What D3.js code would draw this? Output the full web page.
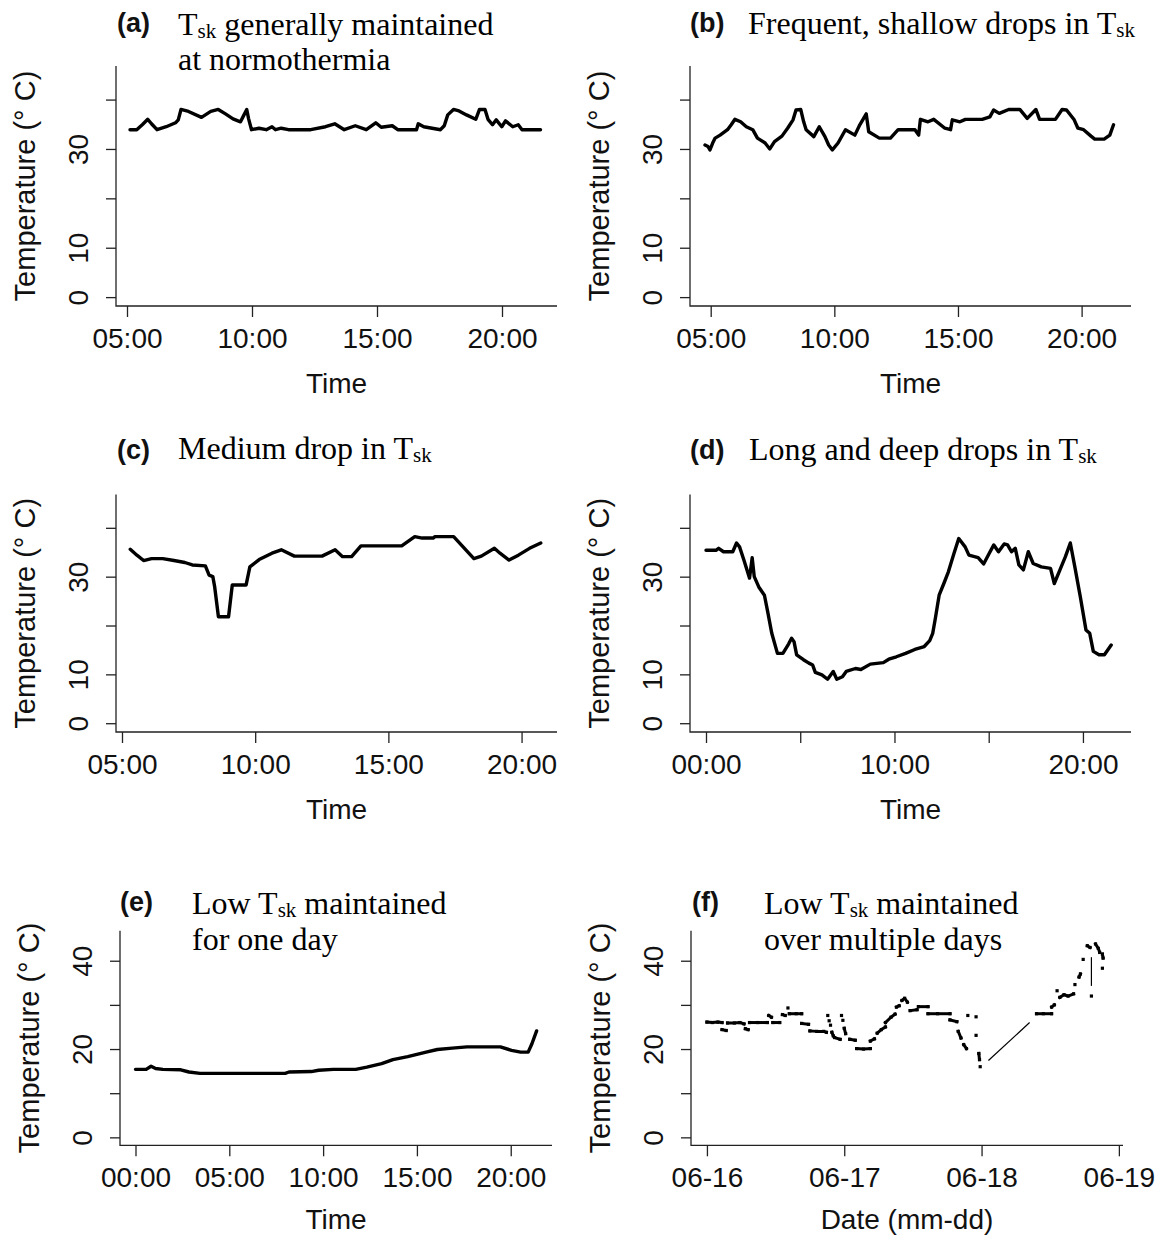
<!DOCTYPE html>
<html>
<head>
<meta charset="utf-8">
<script src="https://cdn.jsdelivr.net/npm/d3@7"></script>
<style>
  body { margin: 0; background: #fff; }
  svg { display: block; }
</style>
</head>
<body>
<svg id="fig" width="1167" height="1236"></svg>
<script>
// ---- Skin temperature (Tsk) records, hours of day / temperature in °C ----
const hoursA = [5.12,5.39,5.61,5.83,5.98,6.2,6.57,6.94,7.05,7.16,7.46,7.98,8.35,8.65,8.94,9.24,9.54,9.68,9.79,9.86,9.98,10.28,10.57,10.8,10.94,11.17,11.46,12.35,12.94,13.31,13.69,14.13,14.57,14.95,15.17,15.61,15.83,16.58,16.65,16.87,17.54,17.69,17.83,18.06,18.28,18.58,18.95,19.1,19.32,19.44,19.62,19.77,19.99,20.14,20.43,20.65,20.8,21.54];
const tempA  = [33.9,33.9,34.9,36.0,35.1,33.9,34.5,35.3,35.9,38.0,37.6,36.4,37.6,38.0,37.1,36.1,35.5,36.9,38.0,36.2,33.9,34.2,33.9,34.5,33.9,34.2,33.9,33.9,34.5,35.1,33.9,34.7,33.9,35.3,34.4,34.7,33.9,33.9,35.1,34.5,33.9,34.7,36.9,38.0,37.7,36.9,36.0,38.0,38.0,36.0,34.9,35.9,34.5,35.7,34.5,34.9,33.9,33.9];

const hoursB = [4.77,4.89,4.97,5.08,5.18,5.38,5.68,5.83,5.98,6.21,6.44,6.7,6.89,7.2,7.39,7.58,7.88,8.11,8.33,8.45,8.64,8.76,8.86,9.17,9.39,9.62,9.77,9.92,10.15,10.45,10.83,11.03,11.29,11.39,11.82,12.27,12.58,13.26,13.41,13.48,13.79,14.02,14.47,14.7,14.77,15.08,15.3,15.98,16.29,16.44,16.67,17.05,17.5,17.8,18.15,18.3,18.94,19.21,19.39,19.7,19.85,20.08,20.38,20.53,20.91,21.14,21.29];
const tempB  = [30.8,30.5,29.8,31.2,32.2,32.8,33.9,34.9,36.0,35.5,34.5,33.9,32.2,31.2,30.0,31.5,32.6,34.2,35.9,37.9,38.0,35.5,33.9,32.5,34.5,32.5,30.8,29.8,31.2,33.9,32.8,34.9,37.1,33.5,32.2,32.2,33.9,33.9,32.8,36.0,35.5,36.0,34.2,33.9,35.9,35.5,36.0,36.0,36.5,37.9,37.2,38.0,38.0,36.2,38.0,36.0,36.0,38.0,37.9,35.9,34.2,33.9,32.6,32.0,32.0,32.8,34.9];

const hoursC = [5.31,5.56,5.81,6.11,6.53,6.95,7.36,7.64,8.13,8.27,8.41,8.48,8.62,9.0,9.14,9.66,9.8,10.15,10.63,10.98,11.47,12.51,13.0,13.28,13.62,13.97,15.5,15.99,16.27,16.68,16.75,17.45,18.21,18.49,18.98,19.19,19.53,19.88,20.3,20.72];
const tempC  = [35.6,34.4,33.3,33.7,33.7,33.3,32.9,32.4,32.2,30.3,30.0,27.9,21.8,21.8,28.3,28.3,32.0,33.5,34.8,35.5,34.2,34.2,35.5,34.1,34.1,36.3,36.3,38.2,37.9,37.9,38.2,38.2,33.7,34.2,35.8,34.8,33.4,34.4,35.8,36.9];

const hoursD = [0,0.53,0.67,0.93,1.42,1.62,1.78,2.01,2.31,2.45,2.56,2.8,3.1,3.29,3.49,3.79,4.08,4.38,4.54,4.67,4.81,5.17,5.46,5.66,5.8,6.15,6.45,6.75,6.94,7.24,7.44,7.93,8.22,8.72,9.41,9.7,10.1,10.59,11.08,11.58,11.87,12.03,12.17,12.37,12.62,12.86,13.16,13.41,13.75,13.95,14.44,14.73,15.03,15.27,15.52,15.82,16.0,16.21,16.41,16.6,16.84,17.1,17.36,17.79,18.28,18.48,18.78,19.07,19.33,19.57,19.86,20.16,20.36,20.55,20.85,21.14,21.5];
const tempD  = [35.4,35.4,35.8,35.1,35.1,36.9,36.1,33.4,29.7,33.9,30.0,27.9,26.2,22.5,18.4,14.3,14.3,16.2,17.4,16.7,14.0,13.0,12.3,11.9,10.4,9.9,9.0,10.6,9.0,9.5,10.6,11.2,11.0,12.1,12.4,13.1,13.6,14.3,15.1,15.7,16.9,18.4,21.5,26.2,28.6,31.0,34.8,37.8,36.1,34.4,33.9,32.6,34.8,36.5,35.1,36.7,36.5,35.1,35.8,32.4,31.4,35.1,32.7,32.0,31.7,28.6,31.4,34.1,36.9,32.0,25.9,19.1,18.4,14.7,14.0,14.0,16.0];

const hoursE = [0,0.57,0.83,1.07,1.46,2.41,2.85,3.44,4.62,7.98,8.18,9.37,9.76,10.55,11.74,12.33,13.12,13.72,14.51,15.49,16.09,16.88,17.67,19.45,20.04,20.53,20.93,21.13,21.38];
const tempE  = [15.4,15.4,16.1,15.6,15.4,15.3,14.8,14.5,14.5,14.5,14.8,14.9,15.2,15.4,15.4,15.9,16.7,17.6,18.3,19.3,19.9,20.2,20.5,20.5,19.7,19.3,19.3,21.2,24.1];

// Multi-day record: runs of consecutive readings [days since 06-16, °C]
const fRuns = [
  [[0.00,26.1],[0.04,26.0],[0.08,26.1],[0.11,26.0]],
  [[0.11,24.4],[0.14,24.2]],
  [[0.15,25.9],[0.20,25.9],[0.24,26.0],[0.27,25.7]],
  [[0.28,24.6],[0.30,24.4]],
  [[0.31,26.0],[0.37,26.0],[0.44,26.0]],
  [[0.45,27.6],[0.47,27.2]],
  [[0.48,26.0],[0.53,26.0]],
  [[0.55,27.8],[0.57,27.6]],
  [[0.59,29.3]],
  [[0.60,28.0],[0.65,28.0],[0.69,28.0]],
  [[0.69,25.8],[0.74,25.6]],
  [[0.75,24.1],[0.80,24.0],[0.85,24.0],[0.87,23.8]],
  [[0.88,27.6]],
  [[0.89,26.4]],
  [[0.90,25.4]],
  [[0.91,23.8],[0.92,23.0]],
  [[0.93,22.6],[0.97,22.2]],
  [[0.98,27.6]],
  [[0.99,26.5]],
  [[1.00,24.7],[1.01,23.5]],
  [[1.04,22.2],[1.08,22.0]],
  [[1.09,20.1],[1.14,20.0],[1.19,20.1]],
  [[1.19,21.8],[1.22,22.3]],
  [[1.24,23.6],[1.27,24.4],[1.30,25.0]],
  [[1.30,26.0],[1.34,27.2],[1.37,27.9]],
  [[1.38,29.5],[1.40,29.8]],
  [[1.42,31.0],[1.44,31.5],[1.46,30.6]],
  [[1.48,28.7],[1.53,28.9]],
  [[1.54,29.6],[1.61,29.6]],
  [[1.61,28.0],[1.68,28.0],[1.77,28.0]],
  [[1.77,26.6],[1.82,26.2]],
  [[1.83,24.0],[1.85,22.5]],
  [[1.87,21.0],[1.89,20.1]],
  [[1.90,27.6]],
  [[1.96,27.3]],
  [[1.96,23.1]],
  [[1.98,19.0],[1.985,17.6]],
  [[1.99,16.0]],
  [[2.40,28.0],[2.45,28.0],[2.51,28.0]],
  [[2.51,29.5],[2.53,30.0]],
  [[2.55,33.2]],
  [[2.57,31.7],[2.60,32.3],[2.63,32.0],[2.67,32.5]],
  [[2.68,34.6]],
  [[2.71,36.3],[2.72,37.0]],
  [[2.74,40.3]],
  [[2.77,43.4],[2.79,43.0]],
  [[2.80,32.0]],
  [[2.83,43.8],[2.85,42.8],[2.86,41.9]],
  [[2.88,41.5],[2.885,40.6]],
  [[2.88,38.3]]
];
// thin joining strokes across missing stretches
const fLinks = [
  [[2.05,17.4],[2.35,26.0]],
  [[2.80,40.8],[2.80,34.3]]
];

// ---- axis ticks ----
const yTicks = [0,10,20,30,40];
const yLabelsTop = ["0","10","","30",""];
const yLabelsBottom = ["0","","20","","40"];
const hourTicks = [5,10,15,20];
const hourLabels = ["05:00","10:00","15:00","20:00"];
const dayHourTicks = [0,5,10,15,20];
const dayHourLabelsD = ["00:00","","10:00","","20:00"];
const dayHourLabelsE = ["00:00","05:00","10:00","15:00","20:00"];
const dateTicks = [0,1,2,3];
const dateLabels = ["06-16","06-17","06-18","06-19"];

// titles: [text, isSubscript]
const titleA = [[["T",0],["sk",1],[" generally maintained",0]],[["at normothermia",0]]];
const titleB = [[["Frequent, shallow drops in T",0],["sk",1]]];
const titleC = [[["Medium drop in T",0],["sk",1]]];
const titleD = [[["Long and deep drops in T",0],["sk",1]]];
const titleE = [[["Low T",0],["sk",1],[" maintained",0]],[["for one day",0]]];
const titleF = [[["Low T",0],["sk",1],[" maintained",0]],[["over multiple days",0]]];

const SANS = "'Liberation Sans', Arial, Helvetica, sans-serif";
const SERIF = "'Liberation Serif', 'Times New Roman', Times, serif";
const INK = "#111";
const yDomain = [-1.8, 46.8];

const panels = [
  {label:"(a)", x:hoursA, y:tempA, box:[116,557,66,306], xdom:[4.56,22.2], xt:hourTicks, xl:hourLabels, yl:yLabelsTop,
   lab:[117,32], title:titleA, tx:178, ty:[35,70], xTitle:"Time", tOff:87},
  {label:"(b)", x:hoursB, y:tempB, box:[690,1131,66,306], xdom:[4.163,21.997], xt:hourTicks, xl:hourLabels, yl:yLabelsTop,
   lab:[690,32], title:titleB, tx:748, ty:[34], xTitle:"Time", tOff:87},
  {label:"(c)", x:hoursC, y:tempC, box:[116,557,494.6,732], xdom:[4.775,21.33], xt:hourTicks, xl:hourLabels, yl:yLabelsTop,
   lab:[117,459], title:titleC, tx:178, ty:[459], xTitle:"Time", tOff:87},
  {label:"(d)", x:hoursD, y:tempD, box:[690,1131,494.6,732], xdom:[-0.849,22.55], xt:dayHourTicks, xl:dayHourLabelsD, yl:yLabelsTop,
   lab:[690,459], title:titleD, tx:749, ty:[460], xTitle:"Time", tOff:87},
  {label:"(e)", x:hoursE, y:tempE, box:[120,552,930.7,1145.3], xdom:[-0.826,22.2], xt:dayHourTicks, xl:dayHourLabelsE, yl:yLabelsBottom,
   lab:[120,911], title:titleE, tx:192, ty:[914,950], xTitle:"Time", tOff:84},
  {label:"(f)", runs:fRuns, links:fLinks, box:[691,1123,930.7,1145.3], xdom:[-0.116,3.03], xt:dateTicks, xl:dateLabels, yl:yLabelsBottom,
   lab:[692,911], title:titleF, tx:764, ty:[914,950], xTitle:"Date (mm-dd)", tOff:84}
];

const svg = d3.select("#fig");
svg.append("rect").attr("width",1167).attr("height",1236).attr("fill","#fff");

panels.forEach(p => {
  const [L,R,T,B] = p.box;
  const x = d3.scaleLinear().domain(p.xdom).range([L,R]);
  const y = d3.scaleLinear().domain(yDomain).range([B,T]);
  const g = svg.append("g");

  // L-shaped frame
  g.append("path")
    .attr("d", `M${L},${T}V${B}H${R}`)
    .attr("fill","none").attr("stroke","#222").attr("stroke-width",1.3);

  // x axis
  const gx = g.append("g").attr("transform",`translate(0,${B})`)
    .call(d3.axisBottom(x).tickValues(p.xt).tickFormat((d,i)=>p.xl[i]).tickSize(11).tickSizeOuter(0));
  gx.select(".domain").remove();
  gx.selectAll(".tick line").attr("stroke","#222").attr("stroke-width",1.3);
  gx.selectAll(".tick text").attr("y",42).attr("dy",null)
    .attr("fill",INK).style("font-family",SANS).style("font-size","28px");

  // y axis with rotated labels
  const gy = g.append("g").attr("transform",`translate(${L},0)`)
    .call(d3.axisLeft(y).tickValues(yTicks).tickFormat((d,i)=>p.yl[i]).tickSize(10).tickSizeOuter(0));
  gy.select(".domain").remove();
  gy.selectAll(".tick line").attr("stroke","#222").attr("stroke-width",1.3);
  gy.selectAll(".tick text")
    .attr("x",null).attr("dy",null)
    .attr("transform","translate(-38,0) rotate(-90)")
    .attr("text-anchor","middle").attr("dominant-baseline","central")
    .attr("fill",INK).style("font-family",SANS).style("font-size","28px");

  // axis titles
  g.append("text").attr("x",(L+R)/2).attr("y",B+p.tOff)
    .attr("text-anchor","middle").attr("fill",INK)
    .style("font-family",SANS).style("font-size","28px").text(p.xTitle);
  g.append("text")
    .attr("transform",`translate(${L-91},${(T+B)/2}) rotate(-90)`)
    .attr("text-anchor","middle").attr("dominant-baseline","central").attr("fill",INK)
    .style("font-family",SANS).style("font-size","29px").text("Temperature (\u00B0 C)");

  // panel tag and title
  g.append("text").attr("x",p.lab[0]).attr("y",p.lab[1]).attr("fill",INK)
    .style("font-family",SANS).style("font-size","27px").style("font-weight","bold").text(p.label);
  p.title.forEach((line, li) => {
    const t = g.append("text").attr("x",p.tx).attr("y",p.ty[li]).attr("fill","#000")
      .style("font-family",SERIF).style("font-size","32px");
    let shifted = false;
    line.forEach(([s, sub]) => {
      const ts = t.append("tspan").text(s);
      if (sub) { ts.attr("dy",3).style("font-size","21px"); shifted = true; }
      else if (shifted) { ts.attr("dy",-3); shifted = false; }
    });
  });

  // data
  if (p.runs) {
    const line = d3.line().x(d=>x(d[0])).y(d=>y(d[1]));
    g.selectAll("path.run").data(p.runs.filter(r=>r.length>1)).join("path")
      .attr("class","run").attr("d",line)
      .attr("fill","none").attr("stroke","#000").attr("stroke-width",3)
      .attr("stroke-linejoin","round").attr("stroke-linecap","square");
    g.selectAll("rect.pt").data(p.runs.flat()).join("rect")
      .attr("class","pt").attr("x",d=>x(d[0])-1.6).attr("y",d=>y(d[1])-1.6)
      .attr("width",3.2).attr("height",3.2).attr("fill","#000");
    g.selectAll("path.link").data(p.links).join("path")
      .attr("class","link").attr("d",line)
      .attr("fill","none").attr("stroke","#000").attr("stroke-width",1.2);
  } else {
    const pts = p.x.map((h,i)=>[h,p.y[i]]);
    g.append("path").datum(pts)
      .attr("d", d3.line().x(d=>x(d[0])).y(d=>y(d[1])))
      .attr("fill","none").attr("stroke","#000").attr("stroke-width",3.4)
      .attr("stroke-linejoin","round").attr("stroke-linecap","round");
  }
});
</script>
</body>
</html>
